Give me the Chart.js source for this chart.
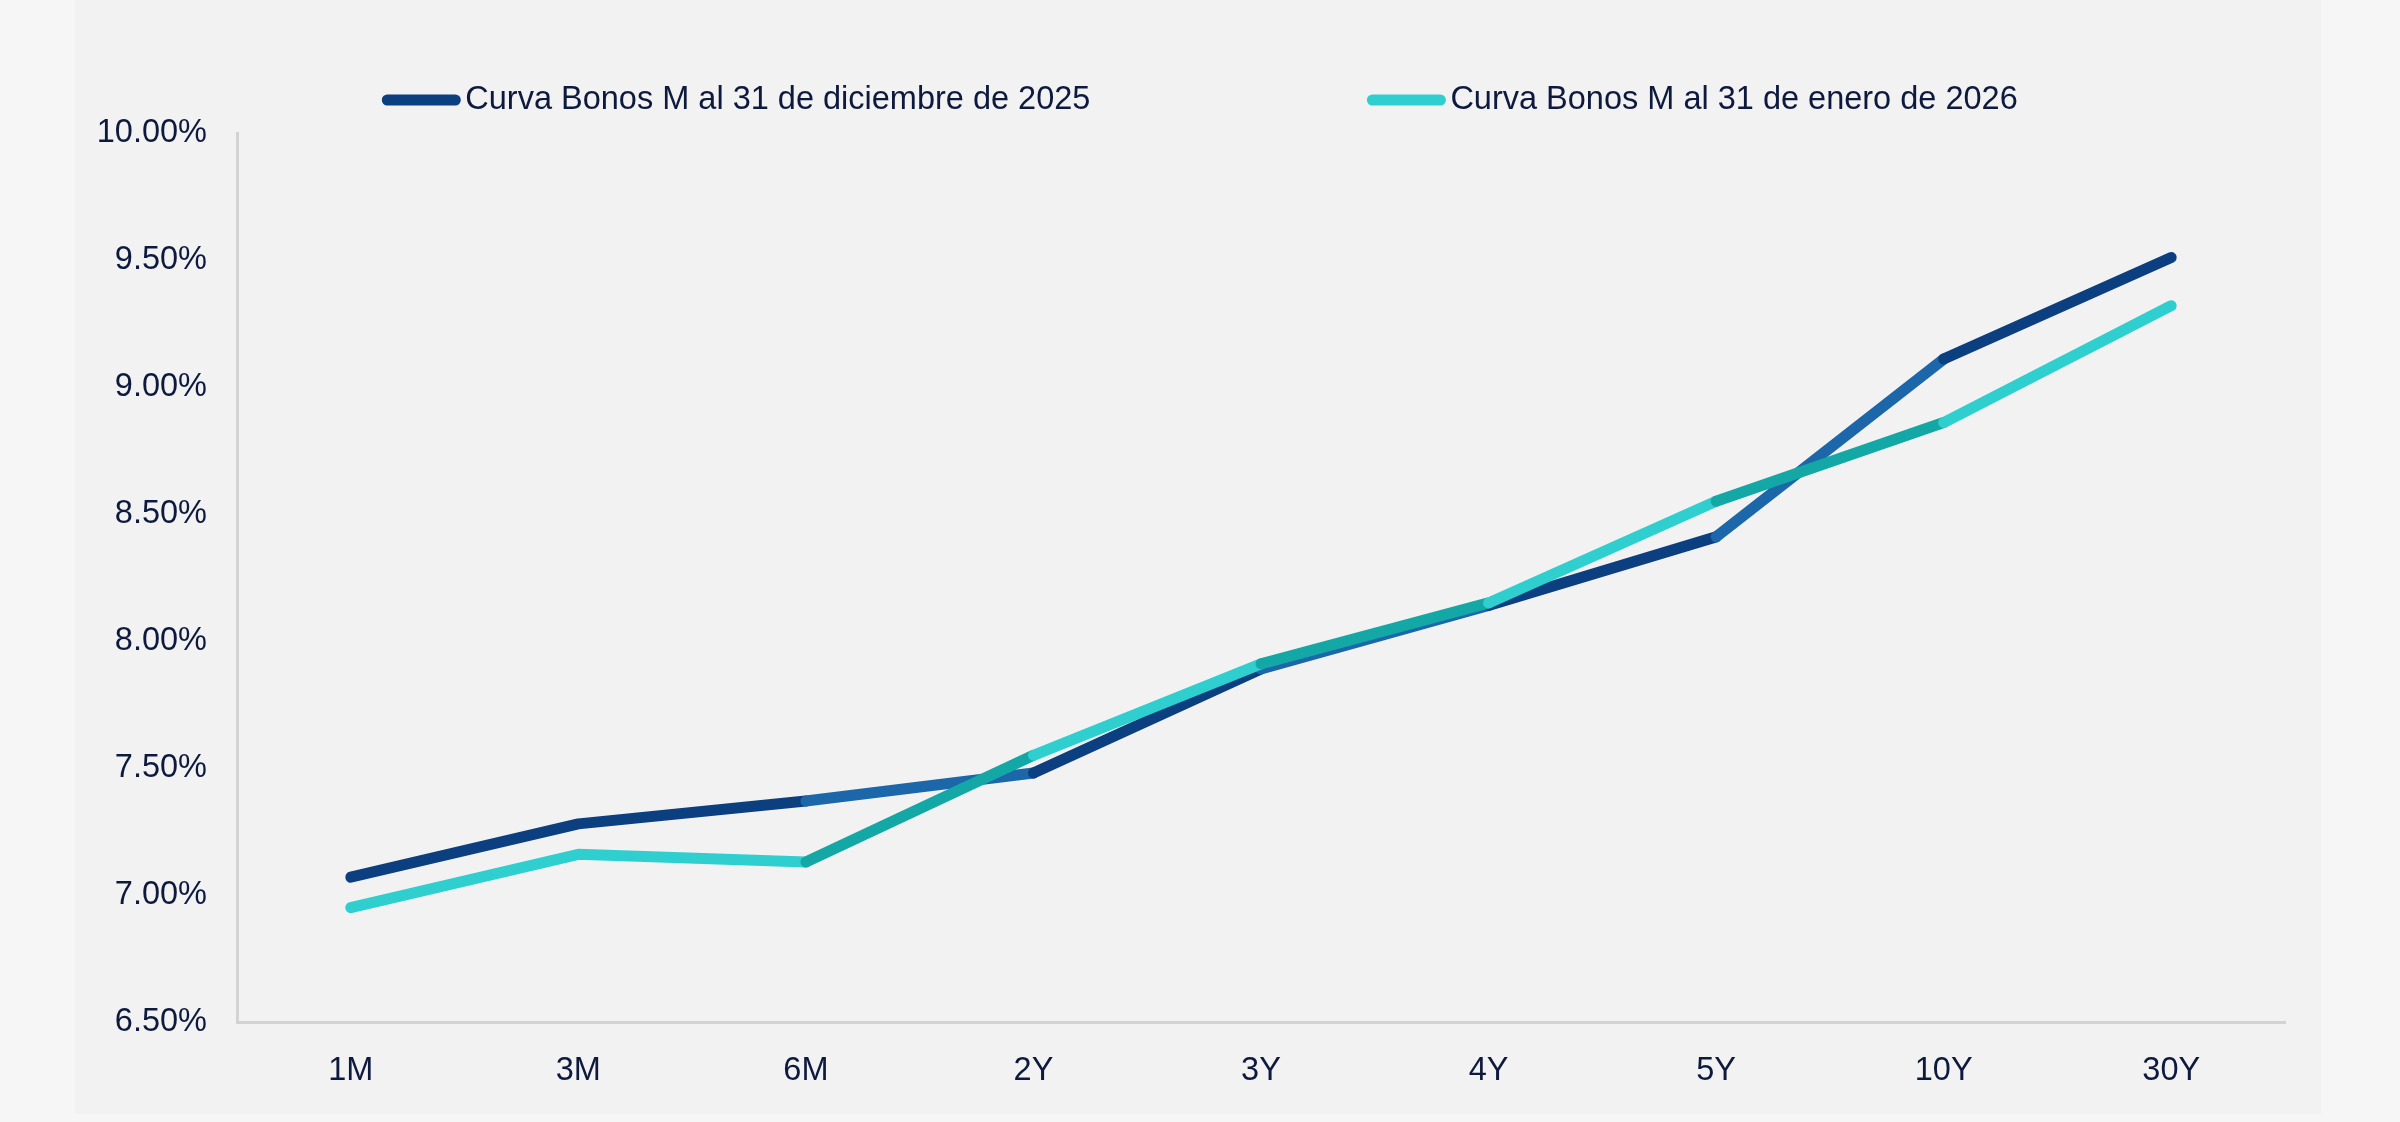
<!DOCTYPE html>
<html>
<head>
<meta charset="utf-8">
<script src="https://cdn.jsdelivr.net/npm/chart.js@4/dist/chart.umd.min.js"></script>
<style>
  html, body { margin: 0; padding: 0; background: #f6f6f6; }
  #wrap { width: 2400px; height: 1122px; position: relative; }
</style>
</head>
<body>
<div id="wrap"><canvas id="c"></canvas></div>
<script>
const categories = ['1M', '3M', '6M', '2Y', '3Y', '4Y', '5Y', '10Y', '30Y'];
const seriesNames = ['Curva Bonos M al 31 de diciembre de 2025', 'Curva Bonos M al 31 de enero de 2026'];
const dec2025 = [7.07, 7.28, 7.37, 7.48, 7.89, 8.14, 8.41, 9.11, 9.51];
const jan2026 = [6.95, 7.16, 7.13, 7.55, 7.91, 8.15, 8.55, 8.86, 9.32];
const yTicks = [6.5, 7.0, 7.5, 8.0, 8.5, 9.0, 9.5, 10.0];

const NAVY = '#0b3f80', BLUE = '#1b67a9';
const TEAL = '#2fcfcf', TEAL_D = '#13a7a6';
const TEXT = '#0e1a3d';
const FONT = '"Liberation Sans", Arial, sans-serif';
const FSIZE = 32.5;
const altSeg = [2, 4, 6];

const bgPlugin = {
  id: 'bg',
  beforeDraw(chart) {
    const ctx = chart.ctx;
    ctx.save();
    ctx.fillStyle = '#f6f6f6';
    ctx.fillRect(0, 0, chart.width, chart.height);
    ctx.fillStyle = '#f2f2f2';
    ctx.fillRect(75, 0, 2321 - 75, 1114);
    ctx.restore();
  }
};

const legendPlugin = {
  id: 'customLegend',
  afterDraw(chart) {
    const ctx = chart.ctx;
    const colors = [NAVY, TEAL];
    const lineW = 78, gapText = 5, gapItems = 277, y = 100;
    ctx.save();
    ctx.font = FSIZE + 'px ' + FONT;
    ctx.textBaseline = 'middle';
    ctx.textAlign = 'left';
    const widths = chart.data.datasets.map(d => lineW + gapText + ctx.measureText(d.label).width);
    const total = widths.reduce((a, b) => a + b, 0) + gapItems * (widths.length - 1);
    let x = chart.width / 2 - total / 2;
    chart.data.datasets.forEach((d, i) => {
      ctx.strokeStyle = colors[i];
      ctx.lineWidth = 11;
      ctx.lineCap = 'round';
      ctx.beginPath();
      ctx.moveTo(x + 5, y);
      ctx.lineTo(x + lineW - 5, y);
      ctx.stroke();
      ctx.fillStyle = TEXT;
      ctx.fillText(d.label, x + lineW + gapText, y);
      x += widths[i] + gapItems;
    });
    ctx.restore();
  }
};

new Chart(document.getElementById('c'), {
  type: 'line',
  data: {
    labels: categories,
    datasets: [
      {
        label: seriesNames[0],
        data: dec2025,
        borderColor: NAVY,
        borderWidth: 11,
        borderCapStyle: 'round',
        borderJoinStyle: 'bevel',
        pointRadius: 0,
        tension: 0,
        order: 1,
        segment: { borderColor: c => altSeg.includes(c.p0DataIndex) ? BLUE : NAVY }
      },
      {
        label: seriesNames[1],
        data: jan2026,
        borderColor: TEAL,
        borderWidth: 11,
        borderCapStyle: 'round',
        borderJoinStyle: 'bevel',
        pointRadius: 0,
        tension: 0,
        order: 0,
        segment: { borderColor: c => altSeg.includes(c.p0DataIndex) ? TEAL_D : TEAL }
      }
    ]
  },
  options: {
    responsive: true,
    maintainAspectRatio: false,
    animation: false,
    layout: { padding: { left: 0, right: 115, top: 133, bottom: 0 } },
    plugins: {
      legend: { display: false },
      tooltip: { enabled: false }
    },
    scales: {
      x: {
        offset: true,
        grid: { display: false, drawTicks: false },
        border: { display: true, color: '#d3d3d3', width: 3 },
        ticks: { color: TEXT, font: { family: FONT, size: FSIZE }, padding: 30, maxRotation: 0 },
        afterFit(s) { s.height = 100; }
      },
      y: {
        min: 6.5,
        max: 10,
        grid: { display: false, drawTicks: false },
        border: { display: true, color: '#d3d3d3', width: 3 },
        afterBuildTicks(s) { s.ticks = yTicks.map(v => ({ value: v })); },
        ticks: {
          color: TEXT,
          font: { family: FONT, size: FSIZE },
          padding: 30,
          callback: v => v.toFixed(2) + '%'
        },
        afterFit(s) { s.width = 237; }
      }
    }
  },
  plugins: [bgPlugin, legendPlugin]
});
</script>
</body>
</html>
